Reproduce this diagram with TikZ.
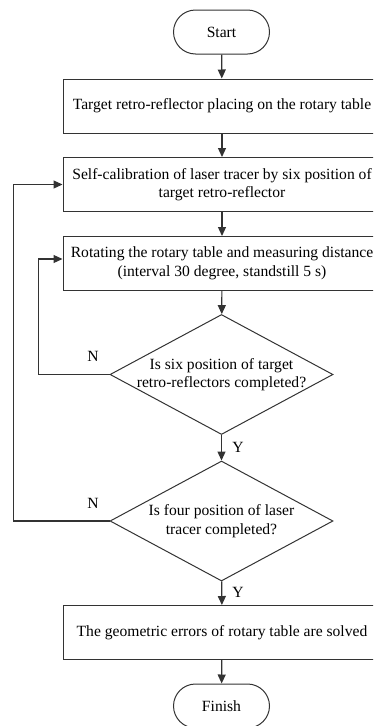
\documentclass[tikz,border=0pt]{standalone}
\usepackage{fontspec}
\setmainfont{Liberation Serif}
\usetikzlibrary{arrows.meta,shapes.geometric,shapes.misc}
\definecolor{ln}{HTML}{333333}
\begin{document}
\begin{tikzpicture}[x=1pt,y=-1pt,
  every node/.style={font=\fontsize{15.6}{18.5}\selectfont, text=black},
  term/.style={draw=ln, line width=1pt, rounded rectangle, minimum width=96pt, minimum height=44pt, inner sep=0pt},
  proc/.style={draw=ln, line width=1pt, rectangle, minimum width=318pt, minimum height=54pt, align=center, inner sep=0pt},
  dec/.style={draw=ln, line width=1pt, diamond, minimum width=223pt, minimum height=120pt, inner sep=0pt},
  arr/.style={draw=ln, line width=1.2pt, -{Triangle[width=8pt,length=9pt]}},
  lab/.style={inner sep=0pt}
]
\useasboundingbox (0,0) rectangle (373,726);
\clip (0,0) rectangle (373,726);
\node[term] (start) at (221.5,32) {Start};
\node[proc] (b1) at (222,106) {Target retro-reflector placing on the rotary table};
\node[proc] (b2) at (222,184.5) {Self-calibration of laser tracer by six position of\\target retro-reflector};
\node[proc] (b3) at (222,263.5) {Rotating the rotary table and measuring distance\\(interval 30 degree, standstill 5 s)};
\node[dec] (d1) at (221.5,374.5) {};
\node[align=center] (t1) at (d1.center) {Is six position of target\\retro-reflectors completed?};
\node[dec] (d2) at (221.5,521) {};
\node[align=center] (t2) at (d2.center) {Is four position of laser\\tracer completed?};
\node[proc] (b4) at (222,632.5) {The geometric errors of rotary table are solved};
\node[term] (fin) at (221.5,706) {Finish};

\draw[arr] (start) -- (b1);
\draw[arr] (b1) -- (b2);
\draw[arr] (b2) -- (b3);
\draw[arr] (b3) -- (d1);
\draw[arr] (d1) -- (d2);
\draw[arr] (d2) -- (b4);
\draw[arr] (b4) -- (fin);
\draw[arr] (d1.west) -- ++(-71,0) |- ([yshift=4.5pt]b3.west);
\draw[arr] (d2.west) -- ++(-96,0) |- (b2.west);

\node[lab] (n1) at (93,356) {N};
\node[lab] (n2) at (93,503) {N};
\node[lab] (y1) at (238,447) {Y};
\node[lab] (y2) at (238,592) {Y};
\end{tikzpicture}
\end{document}
